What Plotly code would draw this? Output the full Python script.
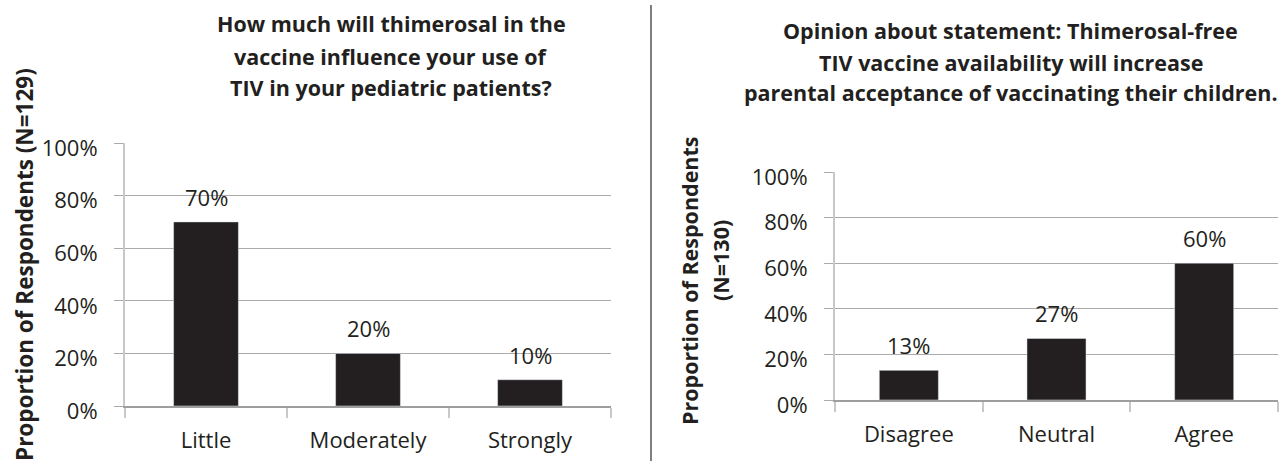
import plotly.graph_objects as go

# ---------------- data ----------------
left_categories = ["Little", "Moderately", "Strongly"]
left_values = [70, 20, 10]
right_categories = ["Disagree", "Neutral", "Agree"]
right_values = [13, 27, 60]
y_tick_values = [0, 20, 40, 60, 80, 100]
y_tick_labels = ["0%", "20%", "40%", "60%", "80%", "100%"]
left_title_lines = ["How much will thimerosal in the",
                    "vaccine influence your use of",
                    "TIV in your pediatric patients?"]
right_title_lines = ["Opinion about statement: Thimerosal-free",
                     "TIV vaccine availability will increase",
                     "parental acceptance of vaccinating their children."]
left_ytitle = "Proportion of Respondents (N=129)"
right_ytitle_lines = ["Proportion of Respondents", "(N=130)"]

# ---------------- styling ----------------
W, H = 1286, 467
FONT = "Open Sans"
TXT = "#231f20"
BAR = "#231f20"
GRID = "#ababab"
AXIS = "#c8c8c8"


def px_x(p):
    return p / W


def px_y(p):
    return 1 - p / H


fig = go.Figure()
fig.add_trace(go.Bar(x=left_categories, y=left_values, marker_color=BAR,
                     width=0.4, xaxis="x", yaxis="y", hoverinfo="skip"))
fig.add_trace(go.Bar(x=right_categories, y=right_values, marker_color=BAR,
                     width=0.4, xaxis="x2", yaxis="y2", hoverinfo="skip"))


def xaxis_style(domain, anchor):
    return dict(domain=domain, anchor=anchor, type="category",
                range=[-0.5, 2.5], tickson="boundaries", ticks="outside",
                ticklen=10, tickwidth=2, tickcolor=AXIS, showgrid=False,
                showline=True, linecolor="#9e9e9e", linewidth=1.5,
                tickfont=dict(family=FONT, size=22, color=TXT),
                ticklabelstandoff=14, automargin=False, fixedrange=True)


def yaxis_style(domain, anchor):
    return dict(domain=domain, anchor=anchor, range=[0, 100],
                tickmode="array", tickvals=y_tick_values, ticktext=y_tick_labels,
                ticks="outside",
                ticklen=9, tickwidth=1.2, tickcolor=GRID, showgrid=True,
                gridcolor=GRID, gridwidth=1.2, zeroline=False,
                showline=True, linecolor=AXIS, linewidth=2,
                tickfont=dict(family=FONT, size=22, color=TXT),
                ticklabelstandoff=12, ticklabelshift=5,
                automargin=False, fixedrange=True)


annotations = []
for c, v in zip(left_categories, left_values):
    annotations.append(dict(x=c, y=v, xref="x", yref="y", text=f"{v}%",
                            showarrow=False, yanchor="bottom", yshift=8,
                            font=dict(family=FONT, size=22, color=TXT)))
for c, v in zip(right_categories, right_values):
    annotations.append(dict(x=c, y=v, xref="x2", yref="y2", text=f"{v}%",
                            showarrow=False, yanchor="bottom", yshift=8,
                            font=dict(family=FONT, size=22, color=TXT)))

title_font = dict(family=FONT, size=21.5, color=TXT, weight="bold")
for line, cy in zip(left_title_lines, [23, 56, 88]):
    annotations.append(dict(x=px_x(391), y=px_y(cy), xref="paper", yref="paper",
                            text=line, showarrow=False, xanchor="center",
                            yanchor="middle", font=title_font))
for line, cy in zip(right_title_lines, [30, 62, 93]):
    annotations.append(dict(x=px_x(1011), y=px_y(cy), xref="paper", yref="paper",
                            text=line, showarrow=False, xanchor="center",
                            yanchor="middle", font=title_font))

annotations.append(dict(x=px_x(24), y=px_y(265), xref="paper", yref="paper",
                        text=left_ytitle, textangle=-90, showarrow=False,
                        xanchor="center", yanchor="middle",
                        font=dict(family=FONT, size=22.5, color=TXT, weight="bold")))
for line, cx, cy in zip(right_ytitle_lines, [689, 720], [281, 261]):
    annotations.append(dict(x=px_x(cx), y=px_y(cy), xref="paper", yref="paper",
                            text=line, textangle=-90, showarrow=False,
                            xanchor="center", yanchor="middle", font=title_font))

fig.update_layout(
    width=W, height=H,
    autosize=False,
    margin=dict(l=0, r=0, t=0, b=0, pad=0, autoexpand=False),
    paper_bgcolor="white", plot_bgcolor="white",
    showlegend=False,
    xaxis=xaxis_style([px_x(125), px_x(611)], "y"),
    yaxis=yaxis_style([px_y(406), px_y(143)], "x"),
    xaxis2=xaxis_style([px_x(835), px_x(1278)], "y2"),
    yaxis2=yaxis_style([px_y(400), px_y(172)], "x2"),
    annotations=annotations,
    shapes=[dict(type="line", xref="paper", yref="paper",
                 x0=px_x(651), x1=px_x(651), y0=px_y(5), y1=px_y(461),
                 line=dict(color="#555555", width=1.5))],
)

fig.write_html("out.html")
